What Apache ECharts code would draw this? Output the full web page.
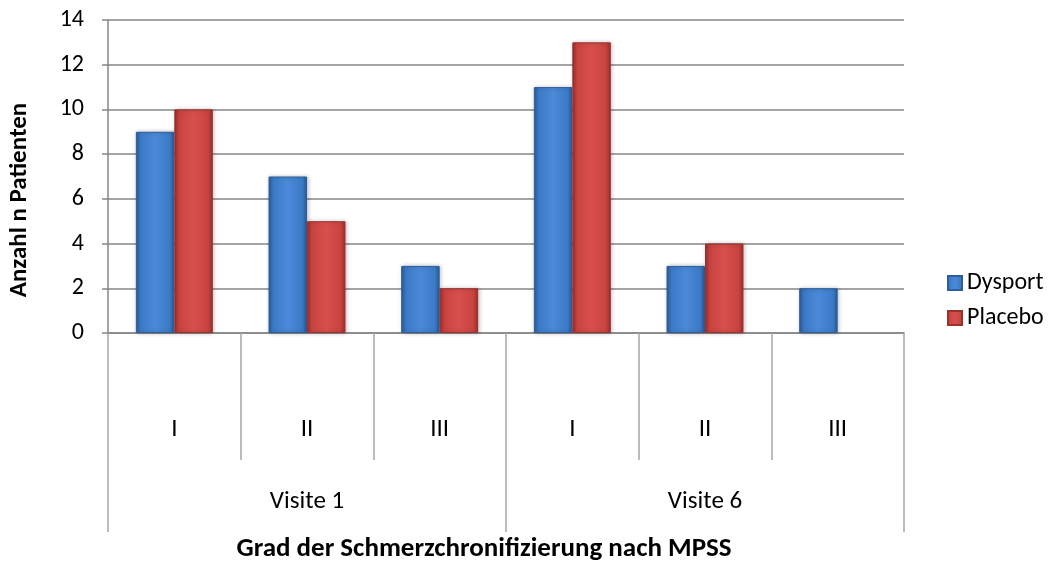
<!DOCTYPE html>
<html>
<head>
<meta charset="utf-8">
<script src="https://cdn.jsdelivr.net/npm/echarts@6/dist/echarts.min.js"></script>
<style>
  html, body { margin: 0; padding: 0; background: #fff; }
  #chart { width: 1054px; height: 572px; }
</style>
</head>
<body>
<div id="chart"></div>
<script>
// Kategorien (zwei Ebenen)
var grades = ['I', 'II', 'III', 'I', 'II', 'III']
var visits = ['Visite 1', 'Visite 6']
var dysport = [9, 7, 3, 11, 3, 2]
var placebo = [10, 5, 2, 13, 4, 0]
var yTicks = [0, 2, 4, 6, 8, 10, 12, 14]

var font = 'Carlito, Lato, sans-serif'
var gridColor = '#868686'
var sepColor = '#a6a6a6'

function barFill(light, mid, dark) {
  return new echarts.graphic.LinearGradient(0, 0, 1, 0, [
    { offset: 0, color: dark },
    { offset: 0.12, color: mid },
    { offset: 0.5, color: light },
    { offset: 0.88, color: mid },
    { offset: 1, color: dark },
  ])
}

// Nullwerte ohne Rand zeichnen
function withoutZero(arr) {
  return arr.map(function (v) {
    return v === 0 ? { value: 0, itemStyle: { borderWidth: 0, shadowBlur: 0 } } : v
  })
}

var chart = echarts.init(document.getElementById('chart'))
chart.setOption({
  animation: false,
  textStyle: { fontFamily: font },
  grid: {
    left: 108,
    right: 150,
    top: 20,
    bottom: 239,
  },
  legend: {
    orient: 'vertical',
    left: 942,
    top: 266,
    itemWidth: 14,
    itemHeight: 14,
    itemGap: 11,
    icon: 'rect',
    textStyle: { fontSize: 24, color: '#000', fontFamily: font },
    data: ['Dysport', 'Placebo'],
  },
  xAxis: [
    {
      type: 'category',
      data: grades,
      position: 'bottom',
      axisLine: { show: true, lineStyle: { color: gridColor, width: 1.5 } },
      axisTick: { show: true, length: 127, interval: 0, lineStyle: { color: sepColor, width: 1.5 } },
      axisLabel: { color: '#000', fontSize: 25, margin: 84, interval: 0 },
    },
    {
      type: 'category',
      data: visits,
      position: 'bottom',
      offset: 0,
      axisLine: { show: false },
      axisTick: { show: true, length: 199, interval: 0, lineStyle: { color: sepColor, width: 1.5 } },
      axisLabel: { color: '#000', fontSize: 25, margin: 156, interval: 0 },
    },
  ],
  yAxis: {
    type: 'value',
    min: yTicks[0],
    max: yTicks[yTicks.length - 1],
    interval: 2,
    axisLine: { show: true, lineStyle: { color: gridColor, width: 1.5 } },
    axisTick: { show: true, length: 6, lineStyle: { color: gridColor, width: 1.5 } },
    splitLine: { show: true, lineStyle: { color: gridColor, width: 1.5 } },
    axisLabel: { color: '#000', fontSize: 24, margin: 24 },
  },
  graphic: [
    {
      type: 'text',
      x: 20,
      y: 200,
      rotation: Math.PI / 2,
      style: {
        text: 'Anzahl n Patienten',
        font: 'bold 25px ' + font,
        fill: '#000',
        align: 'center',
        verticalAlign: 'middle',
      },
    },
    {
      type: 'text',
      x: 484,
      y: 549,
      style: {
        text: 'Grad der Schmerzchronifizierung nach MPSS',
        font: 'bold 27px ' + font,
        fill: '#000',
        align: 'center',
        verticalAlign: 'middle',
      },
    },
  ],
  series: [
    {
      name: 'Dysport',
      type: 'bar',
      xAxisIndex: 0,
      data: withoutZero(dysport),
      barGap: '0%',
      barCategoryGap: '42%',
      itemStyle: {
        color: barFill('#4a8ad8', '#3c7ac6', '#2a5a95'),
        borderColor: '#2d5e9c',
        borderWidth: 1,
        shadowColor: 'rgba(0,0,0,0.25)',
        shadowBlur: 4,
        shadowOffsetX: 1,
      },
    },
    {
      name: 'Placebo',
      type: 'bar',
      xAxisIndex: 0,
      data: withoutZero(placebo),
      itemStyle: {
        color: barFill('#d8504d', '#c84340', '#982e2c'),
        borderColor: '#9c302d',
        borderWidth: 1,
        shadowColor: 'rgba(0,0,0,0.25)',
        shadowBlur: 4,
        shadowOffsetX: 1,
      },
    },
  ],
})
</script>
</body>
</html>
